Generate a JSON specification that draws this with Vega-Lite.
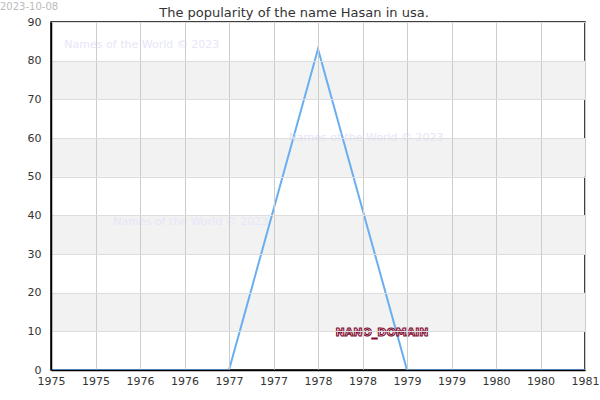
{
  "$schema": "https://vega.github.io/schema/vega-lite/v6.json",
  "width": 534,
  "height": 348,
  "autosize": {"type": "none"},
  "padding": {"left": 51, "top": 22, "right": 15, "bottom": 30},
  "config": {
    "font": "DejaVu Sans",
    "view": {"stroke": "#000000", "strokeWidth": 1.5},
    "axis": {"labelFont": "DejaVu Sans", "labelColor": "#333333", "labelFontSize": 11, "ticks": false, "domain": false, "title": null}
  },
  "title": {"text": "The popularity of the name Hasan in usa.", "fontSize": 13, "font": "DejaVu Sans", "fontWeight": "normal", "color": "#333333", "dx": -24, "offset": -18, "frame": "group"},
  "datasets": {
    "series": [
      {"year": 1975, "count": 0},
      {"year": 1976, "count": 0},
      {"year": 1977, "count": 0},
      {"year": 1978, "count": 83},
      {"year": 1979, "count": 0},
      {"year": 1980, "count": 0},
      {"year": 1981, "count": 0}
    ],
    "bands": [
      {"from": 10, "to": 20},
      {"from": 30, "to": 40},
      {"from": 50, "to": 60},
      {"from": 70, "to": 80}
    ],
    "marks": [
      {"label": "Names of the World © 2023", "x": 1976.02, "y": 84},
      {"label": "Names of the World © 2023", "x": 1978.54, "y": 60},
      {"label": "Names of the World © 2023", "x": 1976.57, "y": 38.3}
    ],
    "brand": [{"label": "NANO_DOMAIN", "x": 1978.72, "y": 9.6}],
    "stamp": [{"label": "2023-10-08", "x": 1974.427, "y": 94}]
  },
  "encoding": {
    "y": {
      "type": "quantitative",
      "scale": {"domain": [0, 90], "nice": false},
      "axis": {
        "values": [0, 10, 20, 30, 40, 50, 60, 70, 80, 90],
        "tickCount": 10,
        "grid": true, "gridColor": "#dddddd", "gridWidth": 1,
        "labelPadding": 10, "labelOverlap": false, "labelFlush": false,
        "domain": true, "domainColor": "#000000", "domainWidth": 1.5, "zindex": 1
      }
    }
  },
  "layer": [
    {
      "data": {"name": "bands"},
      "mark": {"type": "rect", "color": "#f2f2f2"},
      "encoding": {
        "y": {"field": "from", "type": "quantitative"},
        "y2": {"field": "to"}
      }
    },
    {
      "data": {"name": "series"},
      "mark": {"type": "line", "color": "#6aaef0", "strokeWidth": 2},
      "encoding": {
        "x": {
          "field": "year", "type": "quantitative",
          "scale": {"domain": [1975, 1981], "nice": false, "zero": false},
          "axis": {
            "values": [1975, 1975.5, 1976, 1976.5, 1977, 1977.5, 1978, 1978.5, 1979, 1979.5, 1980, 1980.5, 1981],
            "labelExpr": "floor(datum.value)",
            "grid": true, "gridColor": "#cccccc", "gridWidth": 1,
            "labelPadding": 5, "labelFlush": false, "labelOverlap": false,
            "domain": true, "domainColor": "#000000", "domainWidth": 1.5, "zindex": 1
          }
        },
        "y": {"field": "count", "type": "quantitative"}
      }
    },
    {
      "data": {"name": "marks"},
      "mark": {"type": "text", "fontSize": 11, "color": "#e6e6f8", "align": "center", "baseline": "middle"},
      "encoding": {
        "x": {"field": "x", "type": "quantitative"},
        "y": {"field": "y", "type": "quantitative"},
        "text": {"field": "label"}
      }
    },
    {
      "data": {"name": "brand"},
      "mark": {"type": "text", "fontSize": 11, "fontWeight": "bold", "fill": "#f2c4d2", "stroke": "#7a0a2e", "strokeWidth": 1, "align": "center", "baseline": "middle"},
      "encoding": {
        "x": {"field": "x", "type": "quantitative"},
        "y": {"field": "y", "type": "quantitative"},
        "text": {"field": "label"}
      }
    },
    {
      "data": {"name": "stamp"},
      "mark": {"type": "text", "fontSize": 10, "color": "#bbbbbb", "align": "left", "baseline": "middle"},
      "encoding": {
        "x": {"field": "x", "type": "quantitative"},
        "y": {"field": "y", "type": "quantitative"},
        "text": {"field": "label"}
      }
    }
  ]
}
